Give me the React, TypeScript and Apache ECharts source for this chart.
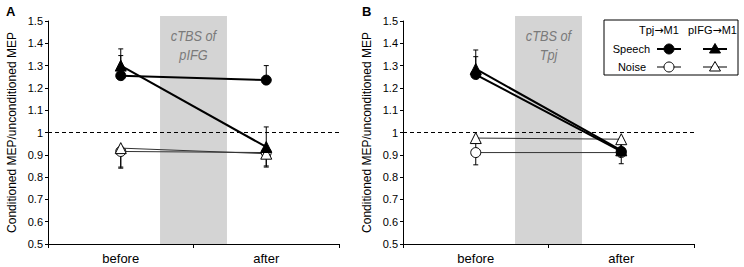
import React, { useEffect, useRef } from "react";
import * as echarts from "echarts";

const categories = ["before", "after"];
const yMin = 0.5;
const yMax = 1.5;
const yInterval = 0.1;

// Panel A (cTBS of pIFG)
const aTpjSpeech = [1.255, 1.235];
const aIfgSpeech = [1.3, 0.935];
const aTpjNoise = [0.915, 0.91];
const aIfgNoise = [0.93, 0.905];
const aTpjSpeechErr = [0.09, 0.065];
const aIfgSpeechErr = [0.075, 0.09];
const aTpjNoiseErr = [0.07, 0.06];
const aIfgNoiseErr = [0.09, 0.06];

// Panel B (cTBS of Tpj)
const bTpjSpeech = [1.26, 0.915];
const bIfgSpeech = [1.285, 0.92];
const bTpjNoise = [0.91, 0.91];
const bIfgNoise = [0.975, 0.97];
const bTpjSpeechErr = [0.08, 0.05];
const bIfgSpeechErr = [0.085, 0.05];
const bTpjNoiseErr = [0.055, 0.05];
const bIfgNoiseErr = [0.05, 0.04];

const bandRange = [0.27, 0.73]; // position between "before" (0) and "after" (1)
const bandLabelA = ["cTBS of", "pIFG"];
const bandLabelB = ["cTBS of", "Tpj"];
const yAxisName = "Conditioned MEP/unconditioned MEP";
const legendCols = [
  ["Tpj", "M1"],
  ["pIFG", "M1"],
];
const legendRows = ["Speech", "Noise"];

const FONT = "'Liberation Sans', Arial, sans-serif";

function bandSeries(idx: number, labels: string[]) {
  return {
    type: "custom",
    xAxisIndex: idx,
    yAxisIndex: idx,
    z: 0,
    silent: true,
    data: [[0, yMax]],
    renderItem: (params: any, api: any) => {
      const p0 = api.coord([0, yMax]);
      const p1 = api.coord([1, yMax]);
      const pb = api.coord([0, yMin]);
      const x0 = p0[0] + (p1[0] - p0[0]) * bandRange[0];
      const x1 = p0[0] + (p1[0] - p0[0]) * bandRange[1];
      const top = p0[1] - 5;
      const cx = (x0 + x1) / 2;
      const textStyle = (t: string) => ({
        text: t,
        fill: "#7a7a7a",
        font: `italic 15px ${FONT}`,
        align: "center",
        verticalAlign: "middle",
      });
      return {
        type: "group",
        children: [
          {
            type: "rect",
            shape: { x: x0, y: top, width: x1 - x0, height: pb[1] - top },
            style: { fill: "#d4d4d4" },
          },
          { type: "text", x: cx, y: top + 20, scaleX: 0.85, style: textStyle(labels[0]) },
          { type: "text", x: cx, y: top + 39, scaleX: 0.85, style: textStyle(labels[1]) },
        ],
      };
    },
  };
}

function errSeries(idx: number, values: number[], errs: number[], up: boolean) {
  return {
    type: "custom",
    xAxisIndex: idx,
    yAxisIndex: idx,
    z: 1,
    silent: true,
    data: values.map((v, i) => [i, v, up ? v + errs[i] : v - errs[i]]),
    renderItem: (params: any, api: any) => {
      const a = api.coord([api.value(0), api.value(1)]);
      const b = api.coord([api.value(0), api.value(2)]);
      const style = { stroke: "#000", lineWidth: 1 };
      return {
        type: "group",
        children: [
          { type: "line", shape: { x1: a[0], y1: a[1], x2: b[0], y2: b[1] }, style },
          { type: "line", shape: { x1: b[0] - 2.5, y1: b[1], x2: b[0] + 2.5, y2: b[1] }, style },
        ],
      };
    },
  };
}

function lineSeries(idx: number, values: number[], symbol: string, filled: boolean, extra?: any) {
  return {
    type: "line",
    xAxisIndex: idx,
    yAxisIndex: idx,
    z: 3,
    data: values,
    symbol,
    symbolSize: symbol === "circle" ? 10 : 11,
    showAllSymbol: true,
    lineStyle: { color: filled ? "#000" : "#333", width: filled ? 2 : 1 },
    itemStyle: { color: filled ? "#000" : "#fff", borderColor: "#000", borderWidth: 1 },
    silent: true,
    ...(extra || {}),
  };
}

function panelSeries(idx: number, d: any) {
  return [
    bandSeries(idx, d.band),
    errSeries(idx, d.tpjSpeech, d.tpjSpeechErr, true),
    errSeries(idx, d.ifgSpeech, d.ifgSpeechErr, true),
    errSeries(idx, d.tpjNoise, d.tpjNoiseErr, false),
    errSeries(idx, d.ifgNoise, d.ifgNoiseErr, false),
    lineSeries(idx, d.tpjNoise, "circle", false, {
      markLine: {
        silent: true,
        symbol: "none",
        label: { show: false },
        lineStyle: { color: "#000", type: [4, 3], width: 1 },
        data: [{ yAxis: 1 }],
      },
    }),
    lineSeries(idx, d.ifgNoise, "triangle", false),
    lineSeries(idx, d.tpjSpeech, "circle", true),
    lineSeries(idx, d.ifgSpeech, "triangle", true),
  ];
}

function xAxis(idx: number) {
  return {
    type: "category",
    gridIndex: idx,
    data: categories,
    boundaryGap: true,
    axisLine: { lineStyle: { color: "#000", width: 1 } },
    axisTick: { show: true, length: 4, lineStyle: { color: "#000" } },
    axisLabel: { color: "#000", fontSize: 13, fontFamily: FONT, margin: 8 },
    splitLine: { show: false },
  };
}

function yAxis(idx: number) {
  return {
    type: "value",
    gridIndex: idx,
    min: yMin,
    max: yMax,
    interval: yInterval,
    name: yAxisName,
    nameLocation: "middle",
    nameGap: 30,
    nameTextStyle: { color: "#000", fontSize: 12, fontFamily: FONT },
    axisLine: { show: true, lineStyle: { color: "#000", width: 1 } },
    axisTick: { show: true, length: 3, lineStyle: { color: "#000" } },
    axisLabel: { color: "#000", fontSize: 11, fontFamily: FONT, margin: 5 },
    splitLine: { show: false },
  };
}

export default function App() {
  const ref = useRef<HTMLDivElement>(null);
  useEffect(() => {
    if (!ref.current) return;
    const chart = echarts.init(ref.current, null, { renderer: "svg" });
    const lx = 604;
    const ly = 20;
    const txt = (t: string, x: number, y: number, align: string) => ({
      type: "text",
      x,
      y,
      style: { text: t, font: `11px ${FONT}`, fill: "#000", align, verticalAlign: "middle" },
    });
    const arrowTxt = (parts: string[], x: number, y: number) => ({
      type: "text",
      x,
      y,
      style: {
        text: `{a|${parts[0]}}{b|\u2192}{a|${parts[1]}}`,
        align: "left",
        verticalAlign: "middle",
        rich: {
          a: { fontSize: 11, fontFamily: FONT, fill: "#000", color: "#000" },
          b: { fontSize: 11, fontFamily: "'DejaVu Sans', sans-serif", fill: "#000", color: "#000" },
        },
      },
    });
    const legendGraphic: any[] = [
      {
        type: "rect",
        shape: { x: lx, y: ly, width: 134, height: 55 },
        style: { fill: "#fff", stroke: "#000", lineWidth: 1 },
      },
      arrowTxt(legendCols[0], 639, ly + 10),
      arrowTxt(legendCols[1], 688, ly + 10),
      txt(legendRows[0], 650, ly + 29, "right"),
      txt(legendRows[1], 646, ly + 47, "right"),
    ];
    const rowsY = [ly + 29, ly + 47];
    const colsX = [669, 715];
    rowsY.forEach((ry, r) => {
      colsX.forEach((cx, c) => {
        const filled = r === 0;
        legendGraphic.push({
          type: "line",
          shape: { x1: cx - 12, y1: ry, x2: cx + 12, y2: ry },
          style: { stroke: "#000", lineWidth: filled ? 2 : 1 },
        });
        if (c === 0) {
          legendGraphic.push({
            type: "circle",
            shape: { cx, cy: ry, r: 5 },
            style: { fill: filled ? "#000" : "#fff", stroke: "#000", lineWidth: 1 },
          });
        } else {
          legendGraphic.push({
            type: "polygon",
            shape: { points: [[cx, ry - 5.5], [cx + 5.5, ry + 4], [cx - 5.5, ry + 4]] },
            style: { fill: filled ? "#000" : "#fff", stroke: "#000", lineWidth: 1 },
          });
        }
      });
    });
    legendGraphic.push(
      {
        type: "text",
        x: 6,
        y: 5,
        style: { text: "A", font: `bold 13px ${FONT}`, fill: "#000" },
      },
      {
        type: "text",
        x: 362,
        y: 5,
        style: { text: "B", font: `bold 13px ${FONT}`, fill: "#000" },
      }
    );

    const dataA = {
      band: bandLabelA,
      tpjSpeech: aTpjSpeech,
      ifgSpeech: aIfgSpeech,
      tpjNoise: aTpjNoise,
      ifgNoise: aIfgNoise,
      tpjSpeechErr: aTpjSpeechErr,
      ifgSpeechErr: aIfgSpeechErr,
      tpjNoiseErr: aTpjNoiseErr,
      ifgNoiseErr: aIfgNoiseErr,
    };
    const dataB = {
      band: bandLabelB,
      tpjSpeech: bTpjSpeech,
      ifgSpeech: bIfgSpeech,
      tpjNoise: bTpjNoise,
      ifgNoise: bIfgNoise,
      tpjSpeechErr: bTpjSpeechErr,
      ifgSpeechErr: bIfgSpeechErr,
      tpjNoiseErr: bTpjNoiseErr,
      ifgNoiseErr: bIfgNoiseErr,
    };

    chart.setOption({
      animation: false,
      backgroundColor: "#fff",
      grid: [
        { left: 48, top: 21, width: 291, height: 223 },
        { left: 403, top: 21, width: 291, height: 223 },
      ],
      xAxis: [xAxis(0), xAxis(1)],
      yAxis: [yAxis(0), yAxis(1)],
      series: [...panelSeries(0, dataA), ...panelSeries(1, dataB)],
      graphic: legendGraphic,
    });
    return () => chart.dispose();
  }, []);
  return (
    <div
      ref={ref}
      style={{ position: "fixed", left: 0, top: 0, width: 744, height: 267, background: "#fff" }}
    />
  );
}
